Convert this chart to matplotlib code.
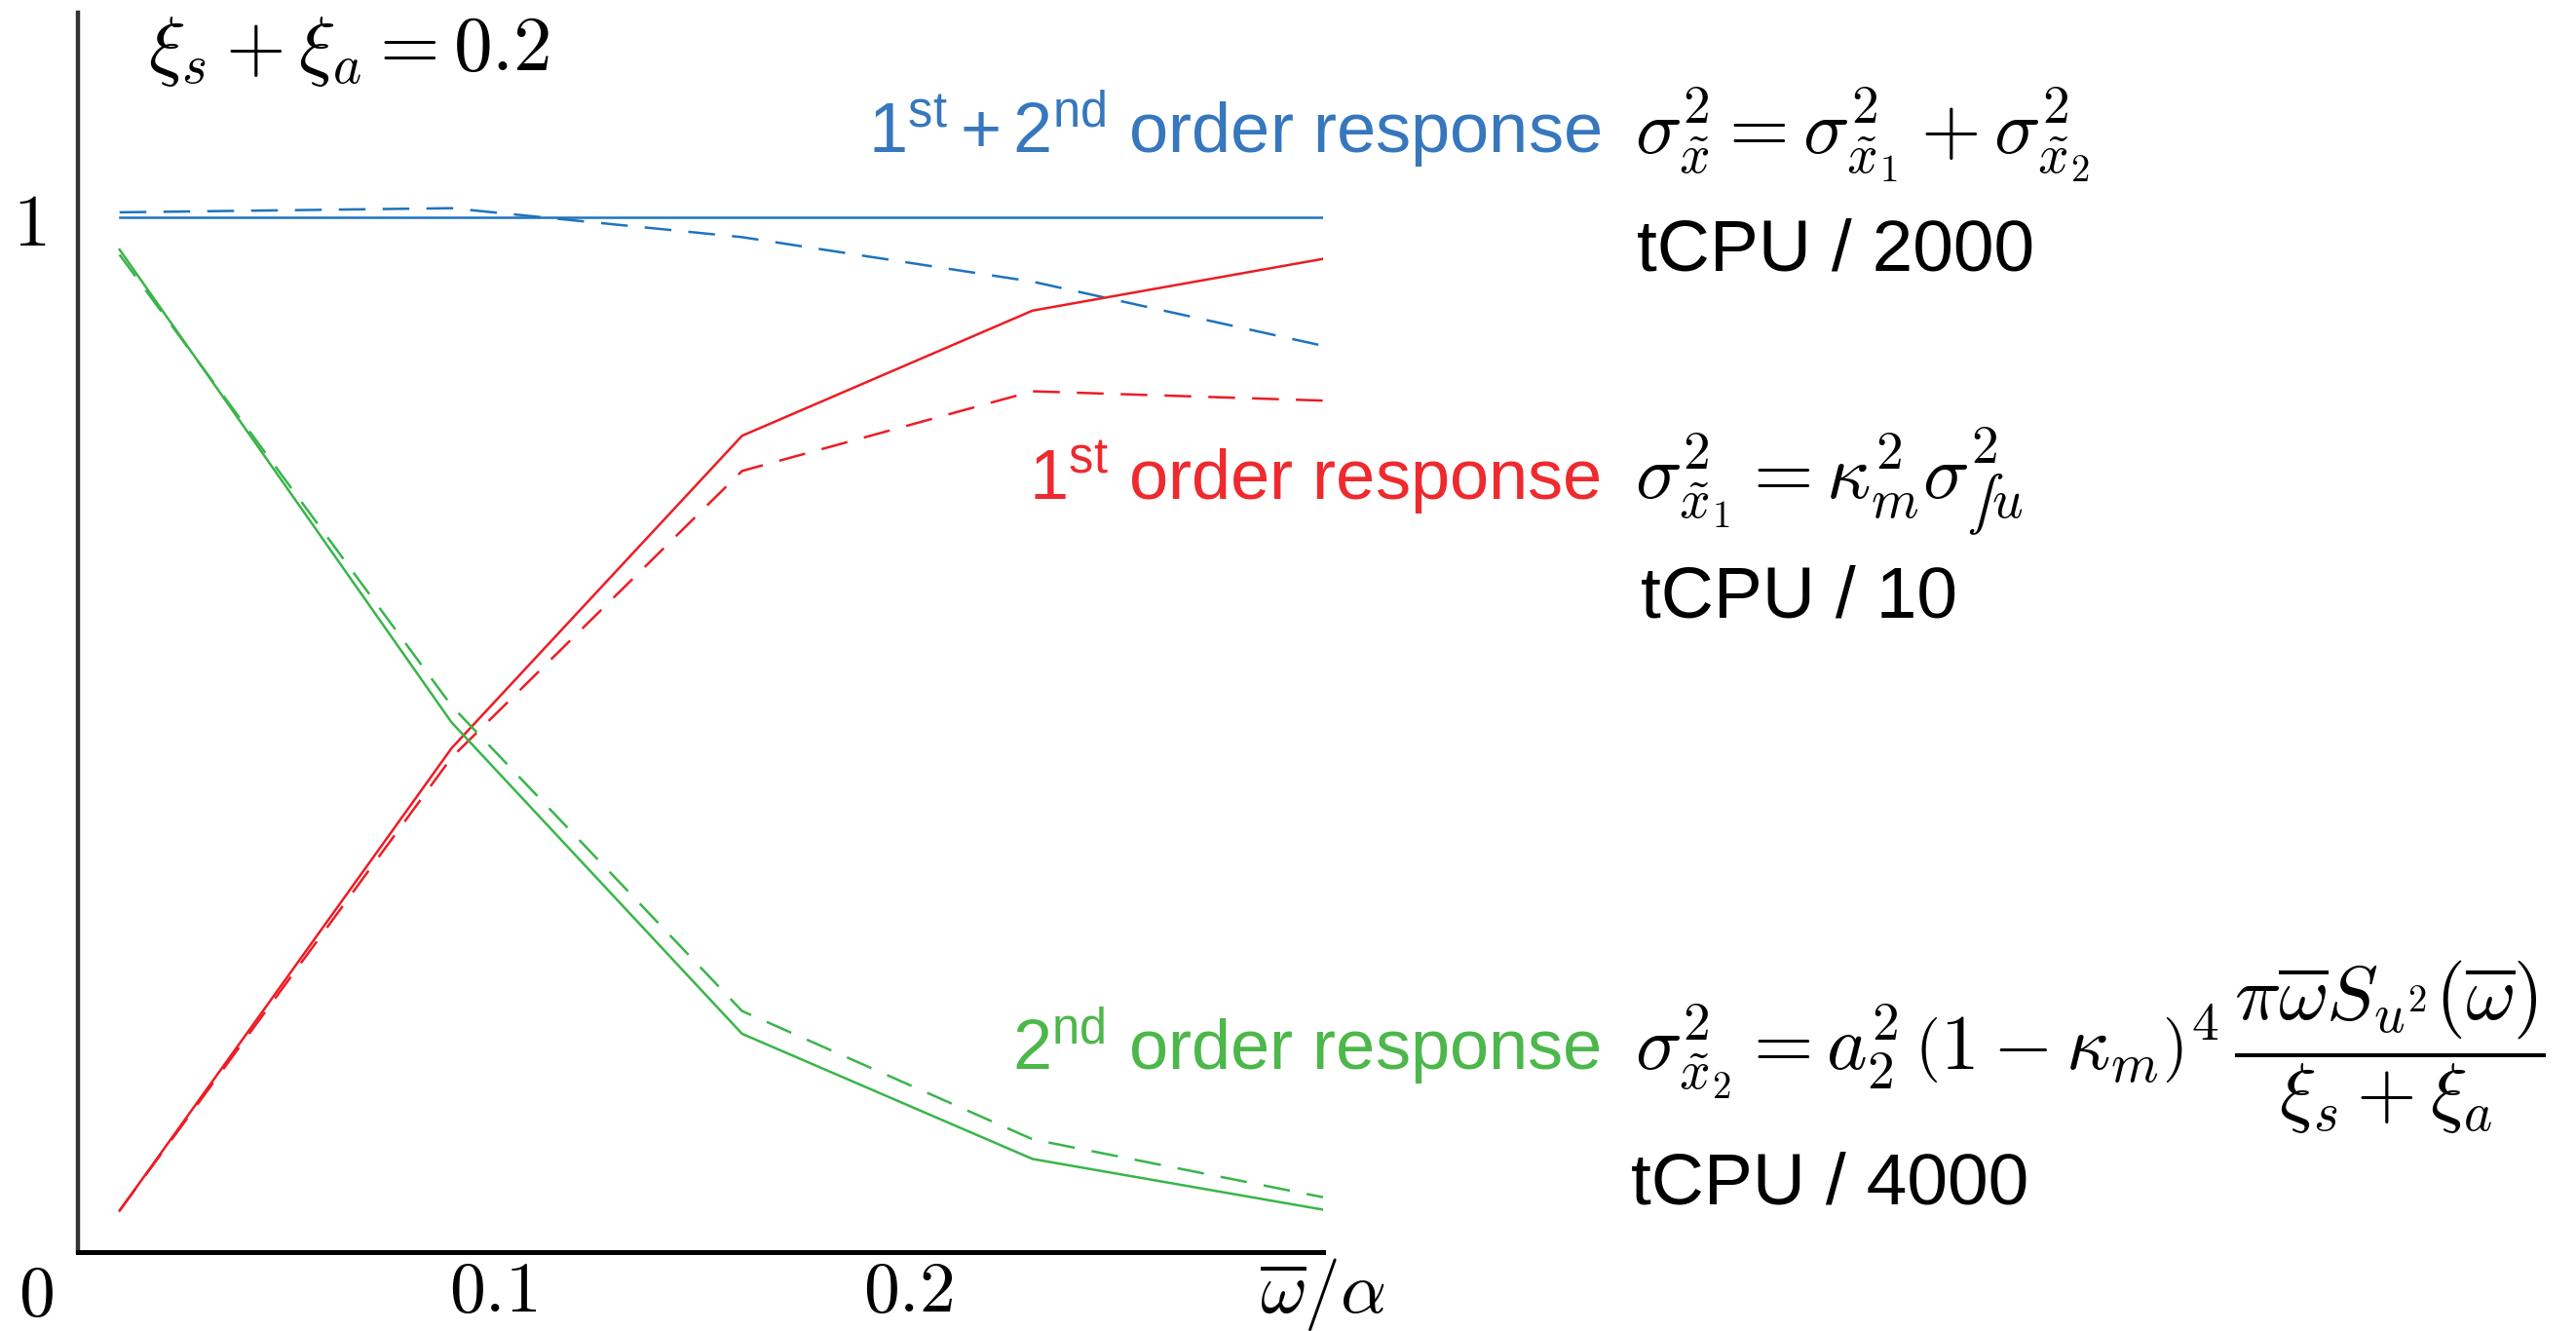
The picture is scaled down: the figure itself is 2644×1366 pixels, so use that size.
import matplotlib
matplotlib.use("Agg")
import matplotlib.pyplot as plt

plt.rcParams["mathtext.fontset"] = "cm"
plt.rcParams["mathtext.rm"] = "Liberation Sans"
plt.rcParams["mathtext.it"] = "Liberation Sans:italic"
plt.rcParams["mathtext.bf"] = "Liberation Sans:bold"

# frequency ratio samples, xi_s + xi_a = 0.2
freq_ratio = [0.01, 0.09, 0.16, 0.23, 0.30]

# solid: full simulation, dashed: approximation (normalised variance)
total_full = [1.0, 1.0, 1.0, 1.0, 1.0]
total_approx = [1.005, 1.009, 0.981, 0.938, 0.876]
first_full = [0.040, 0.487, 0.789, 0.910, 0.960]
first_approx = [0.040, 0.478, 0.755, 0.832, 0.823]
second_full = [0.969, 0.512, 0.211, 0.090, 0.041]
second_approx = [0.964, 0.528, 0.233, 0.109, 0.053]

x_ticks = [0.1, 0.2, 0.3]
x_ticklabels = [r"$0.1$", r"$0.2$", r"$\overline{\omega}/\alpha$"]

BLUE = "#1e73be"
RED = "#ed1c24"
GREEN = "#39b54a"
BLUE_TXT = "#3677bd"
RED_TXT = "#ee2a2e"
GREEN_TXT = "#4cb74a"

fig = plt.figure(figsize=(26.44, 13.66), dpi=100)
ax = fig.add_axes([0.0303, 0.0593, 0.4833, 0.9312])

lw = 1.8
dash = (0, (11, 7))
ax.plot(freq_ratio, total_full, color=BLUE, lw=lw)
ax.plot(freq_ratio, total_approx, color=BLUE, lw=lw, linestyle=dash)
ax.plot(freq_ratio, first_full, color=RED, lw=lw)
ax.plot(freq_ratio, first_approx, color=RED, lw=lw, linestyle=dash)
ax.plot(freq_ratio, second_full, color=GREEN, lw=lw)
ax.plot(freq_ratio, second_approx, color=GREEN, lw=lw, linestyle=dash)

ax.set_xlim(0, 0.3)
ax.set_ylim(0, 1.198)
for side in ["top", "right"]:
    ax.spines[side].set_visible(False)
ax.spines["left"].set_color("#333333")
ax.spines["left"].set_linewidth(3.2)
ax.spines["bottom"].set_color("black")
ax.spines["bottom"].set_linewidth(3.6)

ax.set_xticks(x_ticks, x_ticklabels)
ax.set_yticks([1], [r"$1$"])
ax.tick_params(axis="x", length=0, labelsize=53, pad=3)
ax.tick_params(axis="y", length=0, labelsize=55, pad=24)
ax.text(-0.0101, -0.008, r"$0$", fontsize=53, ha="center", va="top", clip_on=False)

fig.text(0.0575, 0.9473, r"$\xi_s + \xi_a = 0.2$", fontsize=57, va="baseline")

label_kw = dict(fontsize=52, ha="right", va="baseline", math_fontfamily="custom")
fig.text(0.6214, 0.8851, r"$\mathrm{1^{st}+2^{nd}\ order\ response}$", color=BLUE_TXT, **label_kw)
fig.text(0.6214, 0.6252, r"$\mathrm{1^{st}\ order\ response}$", color=RED_TXT, **label_kw)
fig.text(0.6214, 0.1962, r"$\mathrm{2^{nd}\ order\ response}$", color=GREEN_TXT, **label_kw)

eq_kw = dict(fontsize=57, ha="left", va="baseline")
fig.text(0.6346, 0.8851,
         r"$\sigma^2_{\tilde{x}} = \sigma^2_{\tilde{x}_1} + \sigma^2_{\tilde{x}_2}$", **eq_kw)
fig.text(0.6346, 0.6252, "$\\sigma^2_{\\tilde{x}_1} = \\kappa^2_m \\sigma^2_{\u222bu}$", **eq_kw)
fig.text(0.6346, 0.1962,
         r"$\sigma^2_{\tilde{x}_2} = a^2_2\,\left(1 - \kappa_m\right)^4\,"
         r"\dfrac{\pi\overline{\omega}S_{u^2}(\overline{\omega})}{\xi_s + \xi_a}$", **eq_kw)

cpu_kw = dict(fontsize=54, family="Liberation Sans", va="baseline", ha="left")
fig.text(0.6354, 0.7965, "tCPU / 2000", **cpu_kw)
fig.text(0.6369, 0.5366, "tCPU / 10", **cpu_kw)
fig.text(0.6331, 0.0959, "tCPU / 4000", **cpu_kw)

fig.savefig("out.png", dpi=100)
